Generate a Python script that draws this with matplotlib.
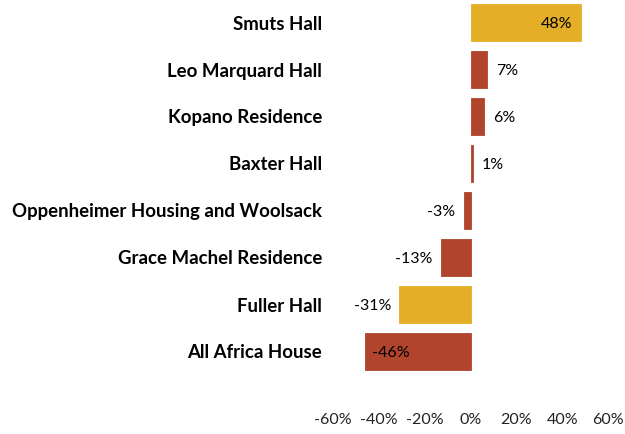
import numpy as np
import matplotlib.pyplot as plt

plt.rcParams['font.family'] = ['Lato', 'DejaVu Sans']

residences = ["Smuts Hall", "Leo Marquard Hall", "Kopano Residence", "Baxter Hall",
              "Oppenheimer Housing and Woolsack", "Grace Machel Residence",
              "Fuller Hall", "All Africa House"]
change = [48, 7, 6, 1, -3, -13, -31, -46]
highlight = [True, False, False, False, False, False, True, False]
inside = [True, False, False, False, False, False, False, True]
ticks = [-60, -40, -20, 0, 20, 40, 60]

gold = "#E4AF27"
red = "#B0442D"

fig = plt.figure(figsize=(6.25, 4.34), dpi=100)
ax = fig.add_axes([333/625, 1 - 375/434, 275/625, 376/434])

y = np.arange(len(residences))
cols = [gold if h else red for h in highlight]
ax.barh(y, change, height=0.78, color=cols, edgecolor=cols, linewidth=0.6)

for yi, v, ins in zip(y, change, inside):
    txt = f"{v}%"
    yy = yi + 0.04
    if ins:
        if v > 0:
            ax.text(v - 3.5, yy, txt, ha="right", va="center", fontsize=11.5, color="black")
        else:
            ax.text(v + 3, yy, txt, ha="left", va="center", fontsize=11.5, color="black")
    else:
        if v >= 0:
            ax.text(v + 4, yy, txt, ha="left", va="center", fontsize=11.5, color="black")
        else:
            ax.text(v - 3.5, yy, txt, ha="right", va="center", fontsize=11.5, color="black")

ax.set_xlim(-60, 60)
ax.set_ylim(len(residences) - 0.5, -0.5)
ax.set_yticks(y)
ax.set_yticklabels(residences, fontsize=13.4, fontweight="bold", color="black")
ax.set_xticks(ticks)
ax.set_xticklabels([f"{t}%" for t in ticks], fontsize=11.5, color="#222222")
ax.tick_params(axis="y", length=0, pad=8)
ax.tick_params(axis="x", length=0, pad=27)
for s in ax.spines.values():
    s.set_visible(False)

fig.savefig("out.png", dpi=100)
